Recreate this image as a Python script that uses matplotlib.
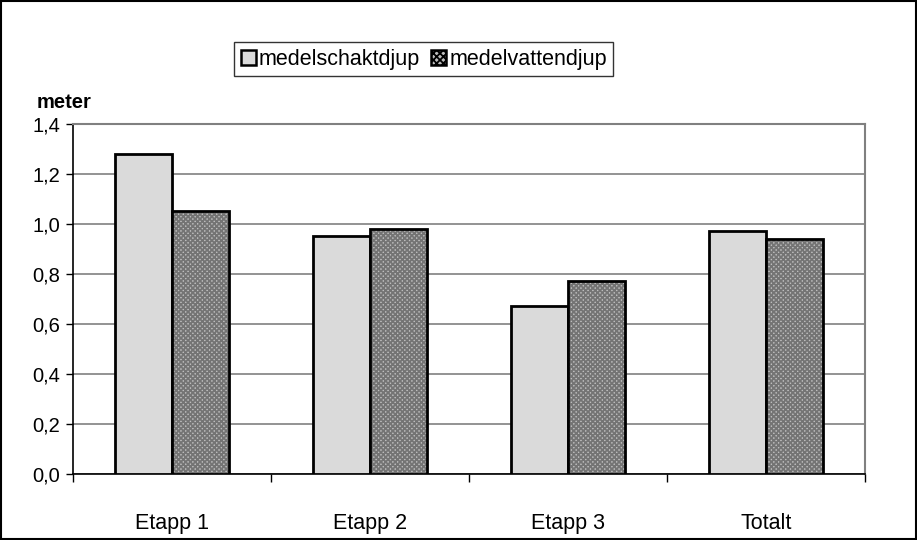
import matplotlib.pyplot as plt
from matplotlib.patches import Rectangle, Patch
import numpy as np

plt.rcParams['font.family'] = ['Liberation Sans', 'DejaVu Sans']
plt.rcParams['hatch.linewidth'] = 1.3

etapper = ['Etapp 1', 'Etapp 2', 'Etapp 3', 'Totalt']
schaktdjup = [1.28, 0.95, 0.67, 0.97]
vattendjup = [1.05, 0.98, 0.77, 0.94]
y_ticks = [0.0, 0.2, 0.4, 0.6, 0.8, 1.0, 1.2, 1.4]
y_labels = ['0,0', '0,2', '0,4', '0,6', '0,8', '1,0', '1,2', '1,4']

fig = plt.figure(figsize=(9.17, 5.40), dpi=100)
ax = fig.add_axes([0.0796, 0.1222, 0.8637, 0.6482])

x = np.arange(len(etapper))
w = 0.288

# ljusgrå staplar
ax.bar(x - w / 2, schaktdjup, w, color='#dadada', edgecolor='black', linewidth=2, zorder=3)
# mönstrade staplar: först mönstret, sedan ram ovanpå
ax.bar(x + w / 2, vattendjup, w, color='#bdbdbd', edgecolor='#747474', hatch='xxxxxxx',
       linewidth=0, zorder=3)
ax.bar(x + w / 2, vattendjup, w, color='none', edgecolor='black', linewidth=2, zorder=4)

ax.set_xlim(-0.5, 3.5)
ax.set_ylim(0, 1.4)
ax.set_yticks(y_ticks)
ax.set_yticklabels(y_labels, fontsize=14.5)
ax.set_xticks(x)
ax.set_xticklabels(etapper, fontsize=15.5)
ax.set_xticks(np.arange(-0.5, 4, 1), minor=True)
ax.tick_params(axis='x', which='major', length=0, pad=28)
ax.tick_params(axis='x', which='minor', length=6, width=1, direction='out', color='black')
ax.tick_params(axis='y', length=5, width=1, direction='out', color='black', pad=4)

ax.yaxis.grid(True, color='#808080', linewidth=1.2)
ax.set_axisbelow(True)
for s in ['top', 'right']:
    ax.spines[s].set_color('#808080')
    ax.spines[s].set_linewidth(1.5)
for s in ['left', 'bottom']:
    ax.spines[s].set_color('black')
    ax.spines[s].set_linewidth(1.2)

fig.text(0.040, 0.792, 'meter', fontsize=14.5, fontweight='bold', ha='left', va='bottom')

handles = [Patch(facecolor='#dadada', edgecolor='black', linewidth=1.8),
           Patch(facecolor='#bdbdbd', edgecolor='black', hatch='xxxxx', linewidth=1.8)]
leg = fig.legend(handles, ['medelschaktdjup', 'medelvattendjup'], loc='center',
                 bbox_to_anchor=(0.462, 0.890), ncol=2, fontsize=15.5, frameon=True,
                 fancybox=False, handlelength=0.7, handleheight=0.7, handletextpad=0.15,
                 columnspacing=0.5, borderpad=0.3, borderaxespad=0)
leg.get_frame().set_edgecolor('black')
leg.get_frame().set_linewidth(1)

fig.patches.append(Rectangle((0.001, 0.001), 0.998, 0.997, transform=fig.transFigure,
                             fill=False, edgecolor='black', linewidth=1.5))

fig.savefig('out.png', dpi=100, facecolor='white')
